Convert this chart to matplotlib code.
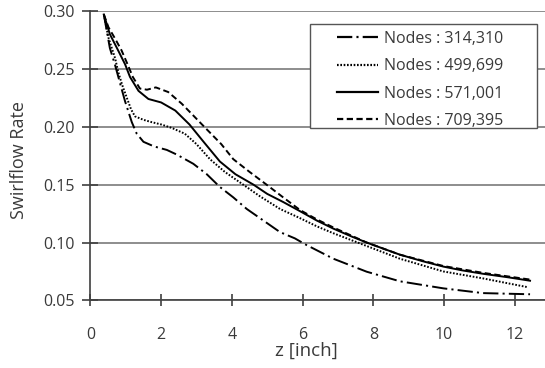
import matplotlib
matplotlib.use("Agg")
import matplotlib.pyplot as plt
from matplotlib.patches import Rectangle

plt.rcParams['font.family'] = ['Open Sans', 'DejaVu Sans']
plt.rcParams['lines.scale_dashes'] = False

labels = ["Nodes : 314,310", "Nodes : 499,699", "Nodes : 571,001", "Nodes : 709,395"]

z_314 = [0.38, 0.55, 0.7, 0.88, 0.98, 1.17, 1.31, 1.5, 1.8, 2.16, 2.44, 2.91, 3.29, 3.66,
         4.04, 4.42, 4.89, 5.36, 5.78, 6.1, 6.87, 7.81, 8.75, 9.98, 11.1, 12.43]
v_314 = [0.297, 0.268, 0.253, 0.233, 0.222, 0.204, 0.194, 0.187, 0.183, 0.180, 0.176, 0.168,
         0.159, 0.148, 0.139, 0.129, 0.119, 0.109, 0.1036, 0.098, 0.086, 0.0748, 0.0665,
         0.0604, 0.0563, 0.0553]

z_499 = [0.38, 0.51, 0.7, 0.79, 0.9, 1.03, 1.15, 1.26, 1.5, 1.73, 2.0, 2.3, 2.67, 3.0, 3.38,
         3.8, 4.32, 4.79, 5.36, 5.93, 6.4, 6.87, 7.81, 8.75, 9.98, 11.1, 12.35]
v_499 = [0.297, 0.277, 0.259, 0.247, 0.236, 0.225, 0.215, 0.209, 0.206, 0.204, 0.202, 0.199,
         0.194, 0.185, 0.172, 0.161, 0.150, 0.140, 0.129, 0.121, 0.114, 0.108, 0.097, 0.086,
         0.075, 0.069, 0.0615]

z_571 = [0.38, 0.55, 0.8, 0.98, 1.12, 1.36, 1.64, 2.0, 2.4, 2.8, 3.2, 3.66, 4.1, 4.61, 5.0,
         5.45, 5.93, 6.4, 6.87, 7.4, 7.81, 8.3, 8.75, 9.4, 9.98, 10.5, 11.1, 11.8, 12.43]
v_571 = [0.297, 0.280, 0.265, 0.254, 0.243, 0.231, 0.224, 0.221, 0.214, 0.202, 0.187, 0.170,
         0.159, 0.150, 0.142, 0.135, 0.127, 0.119, 0.112, 0.105, 0.100, 0.0945, 0.0895, 0.0838,
         0.0792, 0.076, 0.073, 0.070, 0.067]

z_709 = [0.38, 0.51, 0.7, 0.88, 1.05, 1.2, 1.4, 1.6, 1.85, 2.2, 2.58, 2.9, 3.25, 3.7, 4.04,
         4.5, 4.98, 5.45, 5.93, 6.4, 6.87, 7.81, 8.75, 9.98, 11.1, 12.43]
v_709 = [0.297, 0.286, 0.276, 0.266, 0.254, 0.243, 0.233, 0.232, 0.234, 0.230, 0.220, 0.210,
         0.199, 0.185, 0.172, 0.161, 0.150, 0.139, 0.128, 0.120, 0.113, 0.100, 0.0895, 0.0797,
         0.0738, 0.068]

xticks = [0, 2, 4, 6, 8, 10, 12]
yticks = [0.05, 0.10, 0.15, 0.20, 0.25, 0.30]

txt = '#3a3a3a'
fig = plt.figure(figsize=(5.45, 3.68), dpi=100)
ax = fig.add_axes([90.4/545, 1 - 300.4/368, 1 - 90.4/545, (300.4 - 11)/368])

lw = 1.4
ax.plot(z_314, v_314, color='black', lw=lw, linestyle=(0, (11, 3, 1.5, 3)), label=labels[0], zorder=3)
ax.plot(z_499, v_499, color='black', lw=lw, linestyle=(0, (1.2, 1.2)), label=labels[1], zorder=3)
ax.plot(z_571, v_571, color='black', lw=lw, linestyle='-', label=labels[2], zorder=3)
ax.plot(z_709, v_709, color='black', lw=lw, linestyle=(0, (4.5, 2.5)), label=labels[3], zorder=3)

ax.set_xlim(0, (545 - 90.4) / 35.37)
ax.set_ylim(0.05, 0.30)
ax.set_xticks(xticks)
ax.set_xticklabels([str(t) for t in xticks])
ax.set_yticks(yticks)
ax.set_yticklabels([f"{t:.2f}" for t in yticks])
ax.grid(axis='y', color='#7a7a7a', lw=1.2, zorder=1)
ax.set_axisbelow(True)
for s in ['top', 'right']:
    ax.spines[s].set_visible(False)
for s in ['left', 'bottom']:
    ax.spines[s].set_color('#404040')
    ax.spines[s].set_linewidth(1.2)
ax.tick_params(axis='y', direction='inout', length=12, width=1.2, color='#404040',
               labelsize=11.5, labelcolor=txt, pad=5)
ax.tick_params(axis='x', direction='inout', length=8, width=1.2, color='#404040',
               labelsize=11.5, labelcolor=txt, pad=15)

ax.set_xlabel('z [inch]', fontsize=13.5, color=txt)
ax.xaxis.set_label_coords((306.5 - 90.4) / 454.6, (300.4 - 342) / 289.4)
ax.set_ylabel('Swirlflow Rate', fontsize=13, color=txt, va='center')
ax.yaxis.set_label_coords((19.5 - 90.4) / 454.6, (300.4 - 160) / 289.4)

# legend frame
box = Rectangle(((310 - 90.4) / 454.6, (300.4 - 128) / 289.4),
                (537 - 310) / 454.6, (128 - 24) / 289.4,
                transform=ax.transAxes, facecolor='white', edgecolor='#555555',
                lw=1.0, zorder=4)
ax.add_patch(box)
leg = ax.legend(loc='upper left', bbox_to_anchor=((337 - 90.4) / 454.6, (300.4 - 31) / 289.4),
                frameon=False, borderpad=0, borderaxespad=0, handlelength=2.57,
                handletextpad=0.37, labelspacing=0.71, fontsize=11.5, labelcolor=txt)
leg.set_zorder(5)
for h in leg.get_lines():
    h.set_linewidth(1.6)

fig.savefig('out.png', dpi=100)
